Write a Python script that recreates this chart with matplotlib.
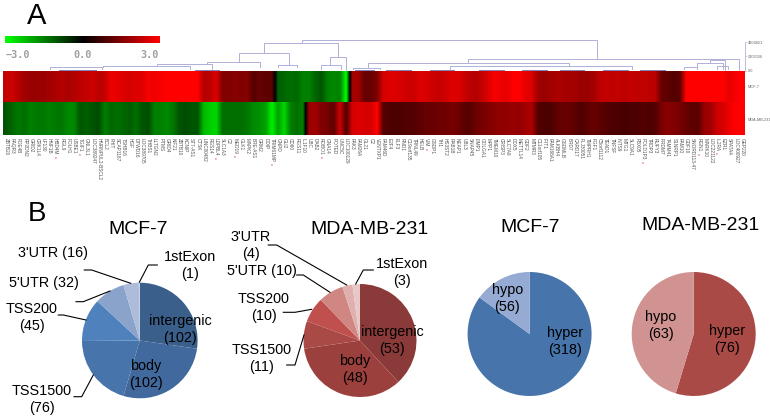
import numpy as np
import matplotlib
matplotlib.use('Agg')
import matplotlib.pyplot as plt
from matplotlib.cm import ScalarMappable
from matplotlib.colors import LinearSegmentedColormap, Normalize

W, H = 770, 418

# heatmap values, one per gene
mcf7 = [2.3, 2.4, 2.1, 1.9, 1.8, 1.8, 1.8, 1.9, 2.0, 2.1,
        2.0, 2.1, 2.2, 2.3, 2.4, 2.2, 2.3, 2.8, 2.7, 2.6,
        2.5, 2.6, 2.6, 2.9, 2.8, 2.9, 3.0, 3.0, 3.0, 3.0,
        3.0, 3.0, 2.1, 2.2, 2.6, 1.5, 1.5, 1.6, 1.5, 1.6,
        1.0, 1.2, 1.1, 1.1, -1.1, -1.2, -1.3, -1.2, -1.5, -1.5,
        -1.2, -1.0, -1.5, -1.6, -1.5, -3.0, 1.9, 1.9, 1.2, 1.2,
        1.5, 2.5, 2.6, 2.6, 2.5, 2.4, 2.4, 2.6, 2.5, 2.4,
        2.3, 2.4, 2.6, 2.6, 2.4, 2.2, 2.1, 2.3, 2.6, 2.9,
        2.8, 2.7, 3.0, 3.0, 2.7, 2.6, 1.9, 1.8, 1.9, 2.0,
        2.0, 1.9, 1.9, 1.8, 1.8, 1.9, 2.2, 2.3, 2.2, 2.3,
        2.2, 2.3, 2.2, 2.3, 2.2, 2.2, 1.2, 1.1, 1.0, 1.1,
        3.0, 3.0, 3.0, 3.0, 3.0, 3.0, 3.0, 2.7, 2.9, 3.0]
mda231 = [-1.0, -1.2, -1.4, -1.3, -1.5, -1.4, -1.4, -1.5, -1.4, -1.4,
          -1.6, -1.6, -1.0, -1.1, -1.0, -0.9, -1.5, -1.2, -1.3, -1.2,
          -1.1, -1.3, -1.0, -0.9, -1.5, -1.5, -1.6, -1.4, -1.0, -0.9,
          -1.0, -1.0, -2.2, -2.4, -2.5, -1.3, -1.3, -1.3, -1.3, -1.4,
          -1.6, -1.7, -1.9, -2.8, -1.9, -2.5, -1.5, -1.3, -1.5, 1.8,
          1.9, 1.5, 1.4, 1.1, 2.4, 0.9, 2.5, 2.6, 2.5, 2.5,
          3.0, 1.0, 0.9, 0.9, 0.9, 1.0, 1.0, 1.1, 1.2, 1.2,
          1.3, 1.3, 1.4, 1.3, 1.1, 1.0, 1.3, 1.4, 1.5, 1.6,
          1.7, 1.7, 1.8, 1.7, 1.9, 2.0, 1.0, 0.9, 0.9, 1.1,
          1.2, 1.2, 1.1, 0.9, 1.1, 1.2, 1.1, 1.0, 0.9, 0.9,
          0.8, 0.9, 0.9, 1.0, 0.9, 1.0, 1.4, 1.6, 1.5, 1.4,
          1.2, 1.1, 1.1, 1.8, 1.9, 2.4, 2.5, 2.8, 3.0, 3.0]

genes = ['ZBTB20', 'PAQR3', 'PDE4B', 'RP2DN2', 'GRID2', 'CRK1L4', 'LF130', 'HNF1B', 'HBD4M', 'RGL9',
         'FOLH1', 'USBE1', 'TGIF1', 'GNL3L1', 'LOC389247', 'HNRNPUL2-BSCL2', 'BCL2', 'FHIT', 'SCAP1187', 'TSHB16',
         'HGF', 'DTWD16', 'LOC389705', 'THBS1', 'LLTGN2', 'PTMS', 'GRID4', 'KIF21', 'ZBTB10', 'KCNIP',
         'ST7-AS1', 'CTSK', 'LINC00482', 'RGS14', 'LDPBL4', 'SLC1A3', 'C2', 'MED19', 'GLK1', 'MAPK2',
         'BRE-AS1', 'GRM2', 'DDIP', 'TRIM61MP', 'GNPD', 'GLI2', 'CD80', 'RGS11', 'IL1F10', 'UBC',
         'DAB2', 'ROBO1', 'GNA14', 'POTED', 'UNC5C', 'LOC100129', 'PAK3', 'FAM26A', 'GL21', 'C2',
         'VENTXP1', 'FAM46D', 'E2F4', 'ELF3', 'RND1', 'C19orf135', 'TRNL49', 'HELB', 'VIM', 'GSDP1',
         'TH1', 'HS3ST2', 'RAB1B', 'NEAP1', 'UBL3', 'SNAP45', 'IJMP1', 'GOLGA1', 'MPP1', 'TMEM10',
         'CRISP3', 'SLC7A9', 'DDX5', 'METTL14', 'GDF2', 'MTMR3', 'C11orf105', 'IFIT1', 'FAM166A1', 'ALKBH4',
         'GSDMLB', 'BRD7', 'CARD17', 'FLJ30051', 'TMPRH1', 'FGF1', 'C5orf1112', 'TEAD1', 'TNFSF', 'INTS9',
         'MTG1', 'SLC9A1', 'FBX05', 'POLD1P3', 'TRDP3', 'RUFY3', 'PRDM7', 'TAMM41', 'S1NRP1', 'FAM10',
         'GDF10', 'SNORD113-47', 'RGN1', 'MARK10', 'LOC221122', 'IL2RA', 'EZR1', 'SPATA4', 'LOC400927', 'GEP220']
star_cols = [8, 12, 34, 37, 43, 51, 68, 103, 112, 115]

row_names = ['MCF-7', 'MDA-MB-231']
height_ticks = [0.0, 2.4, 4.8]
height_labels = ['0.0', '2402336', '4804821']

# dendrogram merges: left col, right col, merge height, heights of left and right child
dend_left = [48.4, 42.2, 38.2, 52.9, 51.5, 44.5, 33.0, 24.9, 16.2, 7.6,
             75.2, 59.1, 56.6, 72.3, 114.4, 112.3, 110.2, 115.5]
dend_right = [96.1, 54.2, 46.3, 55.5, 54.7, 47.6, 41.6, 33.8, 30.3, 16.0,
              119.1, 91.6, 61.0, 101.8, 116.8, 116.5, 112.3, 117.3]
dend_top = [5.17, 4.66, 2.97, 2.29, 0.93, 0.93, 1.44, 1.10, 0.76, 0.51,
            2.0, 1.27, 0.42, 0.76, 1.78, 1.22, 0.6, 0.76]
dend_low_l = [4.66, 2.97, 1.44, 0.93, 0.25, 0.59, 1.10, 0.76, 0.51, 0.17,
              1.27, 0.42, 0.17, 0.25, 1.22, 0.25, 0.17, 0.17]
dend_low_r = [2.0, 2.29, 0.93, 0.08, 0.25, 0.59, 0.59, 0.25, 0.25, 0.17,
              0.08, 0.76, 0.17, 0.25, 0.08, 0.25, 0.17, 0.17]
# tight clusters just above the heatmap: start col, end col
tight_start = [9, 31, 57, 62, 69, 77, 84, 90, 97, 103]
tight_end = [15, 35, 60, 66, 73, 81, 88, 94, 101, 107]
tight_high = [0.1, 0.1, 0.1, 0.1, 0.1, 0.1, 0.1, 0.1, 0.1, 0.1]

regions = ['intergenic', 'body', 'TSS1500', 'TSS200', "5'UTR", "3'UTR", '1stExon']
mcf7_regions = [102, 102, 76, 45, 32, 16, 1]
mda_regions = [53, 48, 11, 10, 10, 4, 3]
status = ['hyper', 'hypo']
mcf7_status = [318, 56]
mda_status = [76, 63]

blues = ['#3a5f8b', '#41699d', '#4674ab', '#4f81bd', '#8aa3cb', '#adbcdb', '#c5d0e6']
reds = ['#8a3a38', '#9c403d', '#aa4a47', '#c0504d', '#d08784', '#dfb0ae', '#e8c8c7']
blues2 = ['#4674ab', '#95abd3']
reds2 = ['#aa4a47', '#d09391']

plt.rcParams['font.family'] = ['Liberation Sans', 'DejaVu Sans']


def px_axes(x0, y0, x1, y1):
    return fig.add_axes([x0 / W, 1 - y1 / H, (x1 - x0) / W, (y1 - y0) / H])


def pie_at(cx, cy, r, vals, cols):
    a = px_axes(cx - r, cy - r, cx + r, cy + r)
    a.pie(vals, colors=cols, startangle=90, counterclock=False, radius=1,
          wedgeprops={'linewidth': 0})
    a.set_xlim(-1, 1)
    a.set_ylim(-1, 1)
    return a


fig = plt.figure(figsize=(W / 100, H / 100), dpi=100)
gmap = LinearSegmentedColormap.from_list('gbr', ['#00ff00', '#000000', '#ff0000'])
norm = Normalize(-3, 3)

# colour key
cax = px_axes(5, 36, 160, 43)
cb = fig.colorbar(ScalarMappable(norm=norm, cmap=gmap), cax=cax, orientation='horizontal')
cb.set_ticks([])
cb.outline.set_visible(False)

# heatmap, each row drawn on its own so the colours do not bleed between rows
ax = px_axes(3, 71, 745, 135)
ax.imshow(np.vstack([mcf7, mcf7]), cmap=gmap, norm=norm, aspect='auto', interpolation='bilinear',
          extent=(0, 120, 0.5, 1))
ax.imshow(np.vstack([mda231, mda231]), cmap=gmap, norm=norm, aspect='auto', interpolation='bilinear',
          extent=(0, 120, 0, 0.5))
ax.set_xlim(0, 120)
ax.set_ylim(0, 1)
for s in ax.spines.values():
    s.set_visible(False)
ax.set_yticks([0.75, 0.25])
ax.set_yticklabels(row_names, fontsize=2.8, color='#666666')
ax.yaxis.tick_right()
ax.tick_params(axis='y', length=1, width=0.3, pad=1, color='#999999')
ax.set_xticks(np.arange(len(genes)) + 0.5)
ax.set_xticklabels(genes, rotation=270, fontsize=3.4, color='#555555', ha='center', va='top')
ax.tick_params(axis='x', length=0, pad=2)

# dendrogram
dax = px_axes(3, 37, 745, 70.5)
dcol = '#b0b0d8'
for l, r, t, bl, br in zip(dend_left, dend_right, dend_top, dend_low_l, dend_low_r):
    dax.plot([l, l, r, r], [bl, t, t, br], color=dcol, lw=0.7, solid_joinstyle='miter')
for l, r, t in zip(tight_start, tight_end, tight_high):
    dax.plot([l, r], [t, t], color='#8080b8', lw=0.7)
dax.set_xlim(0, 120)
dax.set_ylim(0, 5.68)
dax.patch.set_alpha(0)
for k in ['top', 'bottom', 'left']:
    dax.spines[k].set_visible(False)
dax.spines['right'].set_color(dcol)
dax.spines['right'].set_linewidth(0.6)
dax.spines['right'].set_bounds(0, 4.8)
dax.set_xticks([])
dax.yaxis.tick_right()
dax.set_yticks(height_ticks)
dax.set_yticklabels(height_labels, fontsize=2.8, color='#666666')
dax.tick_params(axis='y', length=1.2, width=0.4, pad=1, color=dcol)

# pies
pie_at(139.8, 340.5, 57.8, mcf7_regions, blues)
pie_at(360, 340.5, 56.5, mda_regions, reds)
pie_at(529.6, 334, 62, mcf7_status, blues2)
pie_at(693.7, 334, 62, mda_status, reds2)

# overlay in pixel coordinates for the text and leader lines
top = fig.add_axes([0, 0, 1, 1])
top.set_xlim(0, W)
top.set_ylim(H, 0)
top.axis('off')
top.patch.set_alpha(0)

# red stars go right under the label they mark
fig.canvas.draw()
tick_labels = ax.get_xticklabels()
for c in star_cols:
    box = tick_labels[c].get_window_extent()
    top.text((box.x0 + box.x1) / 2, H - box.y0 + 1.5, '*', color='#dd2222', fontsize=3.5,
             ha='center', va='top')

top.text(37, 24, 'A', fontsize=21, ha='center', va='baseline')
top.text(36.5, 221, 'B', fontsize=20, ha='center', va='baseline')

for x, s in zip([18, 83, 150], ['\u22123.0', '0.0', '3.0']):
    top.text(x, 55.5, s, fontsize=7.3, family='DejaVu Sans Mono', weight='bold',
             color='#a0a0a0', ha='center', va='center')

for x, y, s in [(138, 230, 'MCF-7'), (369, 230, 'MDA-MB-231'),
                (530.3, 228, 'MCF-7'), (700.3, 225.7, 'MDA-MB-231')]:
    top.text(x, y, s, fontsize=14, ha='center', va='center')


def two(x, y, a, b):
    top.text(x, y, a, fontsize=10.4, ha='center', va='center')
    top.text(x, y + 17.4, b, fontsize=10.4, ha='center', va='center')


top.text(53.5, 253, "3'UTR (16)", fontsize=10.4, ha='center', va='center')
top.text(44, 283, "5'UTR (32)", fontsize=10.4, ha='center', va='center')
two(190, 257, '1stExon', '(1)')
two(32, 309, 'TSS200', '(45)')
two(41.7, 391, 'TSS1500', '(76)')
two(180, 321, 'intergenic', '(102)')
two(146, 366, 'body', '(102)')

two(250.7, 237, "3'UTR", '(4)')
top.text(262, 271, "5'UTR (10)", fontsize=10.4, ha='center', va='center')
two(264, 299, 'TSS200', '(10)')
two(262, 350, 'TSS1500', '(11)')
two(402, 264, '1stExon', '(3)')
two(392, 332, 'intergenic', '(53)')
two(355, 361, 'body', '(48)')

two(507.3, 290, 'hypo', '(56)')
two(565.3, 333, 'hyper', '(318)')
two(661, 317, 'hypo', '(63)')
two(726.7, 331, 'hyper', '(76)')

leaders = [
    [(139.3, 282.3), (148.3, 265), (157.3, 265)],
    [(130.7, 283.3), (91.7, 270), (84.3, 270)],
    [(110, 291), (83.3, 301.7), (76, 301.7)],
    [(86, 320), (63.3, 315), (58.3, 315)],
    [(93.3, 375), (81.7, 396.7), (74, 396.7)],
    [(355.7, 284), (363.3, 270), (373.3, 270)],
    [(346.7, 285), (276.7, 245), (268.3, 245)],
    [(330, 292.3), (303.3, 275), (296.7, 275)],
    [(311.7, 309.3), (295, 312.3), (283.3, 312.3)],
    [(304, 335), (295, 365), (286.7, 365)],
]
for pts in leaders:
    xs, ys = zip(*pts)
    top.plot(xs, ys, color='black', lw=0.8)

fig.savefig('out.png', dpi=100)
